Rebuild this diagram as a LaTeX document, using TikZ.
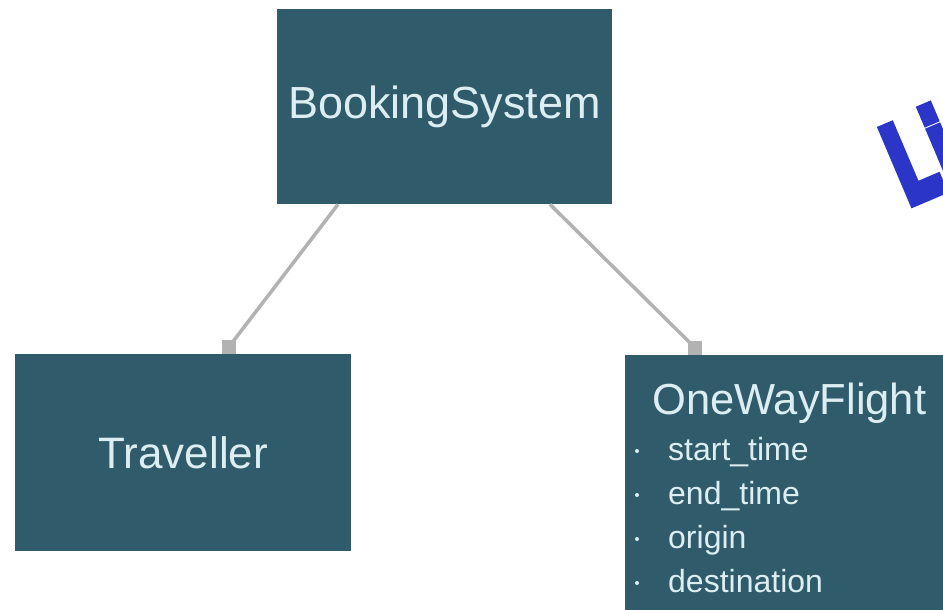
\documentclass[tikz,border=0pt]{standalone}
\usepackage{fontspec}
\setmainfont{Liberation Sans}
\newfontfamily\stampfont[BoldFeatures={FakeBold=6}]{DejaVu Sans}
\usetikzlibrary{arrows.meta,calc}
\definecolor{boxfill}{HTML}{2F5B6B}
\definecolor{boxtext}{HTML}{DDEEF2}
\definecolor{linkgray}{HTML}{B2B2B2}
\definecolor{stampblue}{HTML}{2B36C8}
\begin{document}
\begin{tikzpicture}[x=1pt,y=-1pt,
  classbox/.style={rectangle, fill=boxfill, draw=none, inner sep=0pt,
    anchor=north west, text=boxtext},
  title/.style={text=boxtext, inner sep=0pt, anchor=base west,
    font=\fontsize{43.5}{46}\selectfont},
  attr/.style={text=boxtext, inner sep=0pt, anchor=base west,
    font=\fontsize{32}{34}\selectfont},
  bulletdot/.style={circle, fill=boxtext, inner sep=0pt, minimum size=4pt},
  link/.style={draw=linkgray, line width=3.5pt},
  endsquare/.style={rectangle, fill=linkgray, inner sep=0pt,
    minimum size=14pt, anchor=south},
]
\useasboundingbox (0,0) rectangle (943,610);
\clip (0,0) rectangle (943,610);
\fill[white] (0,0) rectangle (943,610);

% class boxes
\node[classbox, minimum width=335pt, minimum height=195pt,
  font=\fontsize{45}{48}\selectfont] (bs) at (277,9) {\raisebox{-4pt}{BookingSystem}};
\node[classbox, minimum width=336pt, minimum height=197pt,
  font=\fontsize{44}{48}\selectfont] (tr) at (15,354) {Traveller};
\node[classbox, minimum width=340pt, minimum height=280pt] (ow) at (625,355) {};

% OneWayFlight title and attributes
\node[title] (owt) at ($(ow.north west)+(27,59)$) {OneWayFlight};
\node[attr] (a1) at ($(ow.north west)+(43,105)$) {start\_time};
\node[attr] (a2) at ($(ow.north west)+(43,149)$) {end\_time};
\node[attr] (a3) at ($(ow.north west)+(43,193)$) {origin};
\node[attr] (a4) at ($(ow.north west)+(43,237)$) {destination};
\foreach \n in {a1,a2,a3,a4}
  \node[bulletdot] at ($(\n.base west)+(-31,-9)$) {};

% associations, ending in square markers on the child boxes
\node[endsquare] (sq1) at ([xshift=214pt]tr.north west) {};
\node[endsquare] (sq2) at ([xshift=70pt]ow.north west) {};
\draw[link] ([xshift=61pt]bs.south west) -- (sq1.center);
\draw[link] ([xshift=273pt]bs.south west) -- (sq2.center);

% stamp lettering at the right edge
\node[text=stampblue, inner sep=0pt, anchor=base west, rotate=23,
  font=\fontsize{112}{112}\stampfont\bfseries] (stamp) at (906,207)
  {\scalebox{0.62}[1]{Li}};
\end{tikzpicture}
\end{document}
